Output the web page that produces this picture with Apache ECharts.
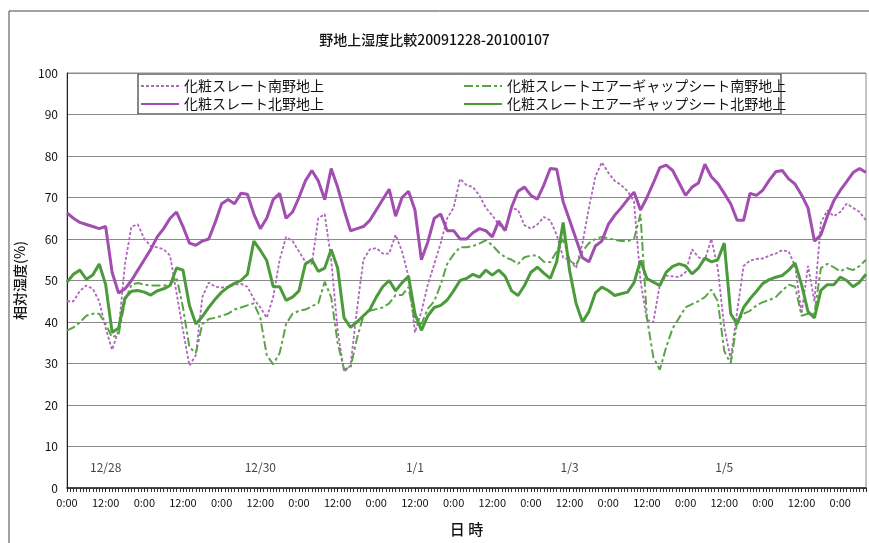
<!DOCTYPE html>
<html>
<head>
<meta charset="utf-8">
<script src="https://cdn.jsdelivr.net/npm/echarts@6/dist/echarts.min.js"></script>
<style>
  html, body { margin: 0; padding: 0; background: #fff; }
  #chart { width: 869px; height: 543px; }
</style>
</head>
<body>
<div id="chart"></div>
<script>
// Relative humidity above the roof sheathing, 2009-12-28 0:00 to 2010-01-07 8:00, one reading every 2 hours
const stepHours = 2;
const axisMaxHours = 248;

const nameSouth = '化粧スレート南野地上';
const nameNorth = '化粧スレート北野地上';
const nameGapSouth = '化粧スレートエアーギャップシート南野地上';
const nameGapNorth = '化粧スレートエアーギャップシート北野地上';

const southSlate = [
  45, 45, 47.5, 48.8, 48, 45, 38.5, 33.3, 38, 54, 63, 63.5,
  60, 58.3, 58, 57.5, 56, 47, 38, 29.5, 32, 46, 49.5, 48.5,
  48.3, 48.5, 49, 49.2, 48.5, 45.5, 43.5, 41, 46, 55, 60.5, 59.5,
  57, 54.5, 54, 65, 66, 55, 38, 28, 29.5, 43, 55, 57.5,
  57.8, 56.5, 56.5, 61, 57, 51, 37.5, 42.5, 49, 54, 59, 65,
  67.5, 74.5, 73, 72.5, 70.5, 67.5, 65.7, 63.5, 62, 67.5, 67, 63.3,
  62.5, 63.5, 65.3, 64.5, 61, 55.5, 55, 53, 59, 67.5, 75, 78.5,
  76, 74, 73, 71.5, 69, 50, 40.5, 40, 49, 51.2, 51, 50.8,
  52, 57.5, 55.6, 55, 60, 53, 38.7, 31, 42.5, 53.5, 54.8, 55.2,
  55.3, 56, 56.5, 57.3, 57, 53.5, 42, 53.5, 45, 64, 66.9, 65.5,
  66.5, 68.5, 67.5, 66.5, 64.5
];

const northSlate = [
  66.3, 65, 64, 63.5, 63, 62.5, 63, 52, 47, 48, 50, 52.5,
  55, 57.5, 60.5, 62.5, 65, 66.5, 63, 59, 58.5, 59.5, 60, 64,
  68.5, 69.5, 68.5, 71, 70.8, 66, 62.5, 65, 69.5, 71, 65, 66.5,
  70, 74, 76.5, 74, 69.5, 77, 72.5, 67, 62, 62.5, 63, 64.5,
  67, 69.5, 72, 65.5, 70, 71.5, 67, 55, 59.3, 65, 66, 62,
  62, 60, 60, 61.5, 62.5, 62, 60.5, 64.3, 62, 67.7, 71.5, 72.5,
  70.5, 69.6, 73, 77, 76.8, 69, 64.5, 60, 55.5, 54.5, 58.3, 59.5,
  63.5, 65.7, 67.5, 69.5, 71.3, 67, 70, 73.5, 77.2, 77.8, 76.5, 73.5,
  70.5, 72.5, 73.5, 78, 75, 73.4, 71, 68.5, 64.5, 64.5, 71, 70.5,
  71.8, 74.2, 76.2, 76.5, 74.5, 73.2, 70.6, 67.5, 59.5, 61, 65.5, 69.2,
  71.7, 73.8, 76, 77, 76
];

const southGapSheet = [
  37.9, 38.7, 39.9, 41.5, 42, 42, 39.5, 36.3, 37, 45, 49, 49.4,
  49, 48.8, 48.8, 48.8, 49, 50.8, 43.5, 33.9, 32.5, 39.5, 40.7, 41,
  41.5, 42, 43, 43.5, 44, 44.5, 41, 32, 29.8, 32.5, 39.5, 42,
  42.7, 43, 43.8, 44.5, 49.7, 46, 35, 28.6, 29, 36, 41.5, 42.7,
  43.1, 43.5, 44.5, 46.5, 46.5, 48.4, 40, 39.5, 43.2, 45, 49, 54,
  56.3, 58, 58, 58.3, 58.9, 59.7, 58.5, 56.8, 55.6, 55, 54, 55.6,
  56, 56, 54.5, 54.4, 57, 60, 55, 53.6, 57, 59, 60, 60.5,
  60.2, 59.8, 59.5, 59.5, 60, 66, 41, 31.5, 28.5, 34, 38.5, 41,
  43.5, 44.3, 45, 46, 47.8, 45, 33, 30, 40, 42, 42.7, 44,
  44.8, 45.3, 46, 47.6, 49, 48.5, 41.5, 42, 42, 53, 54, 53.2,
  52.2, 53, 52.5, 53.5, 55
];

const northGapSheet = [
  49.6, 51.5, 52.5, 50.3, 51.3, 54, 49, 37.5, 38.5, 45.8, 47.4, 47.6,
  47.2, 46.5, 47.5, 48, 48.8, 53, 52.5, 44, 39.5, 41.3, 43.5, 45.5,
  47.2, 48.4, 49.3, 50, 51.5, 59.5, 57.3, 54.8, 48.5, 48.5, 45.2, 46,
  47.5, 54, 55, 52.2, 53, 57.5, 53, 41, 38.7, 40, 41.5, 43,
  46, 48.5, 50, 47.5, 49.5, 51, 42, 38, 41.5, 43.5, 44, 45.3,
  47.5, 50, 50.5, 51.5, 50.8, 52.5, 51.3, 52.5, 51, 47.5, 46.4, 48.8,
  52, 53.2, 51.8, 50.5, 54.5, 64, 52.4, 44.5, 40, 42.5, 47, 48.4,
  47.6, 46.4, 46.8, 47.2, 49.5, 54.8, 50.5, 49.6, 48.8, 52, 53.4, 54,
  53.5, 51.6, 53, 55.4, 54.5, 55, 59, 42, 39.5, 43.5, 45.6, 47.4,
  49.3, 50.2, 50.8, 51.2, 52.5, 54.2, 49, 42.5, 41, 47.6, 49, 49,
  50.8, 50, 48.5, 49.6, 51.5
];

// Date captions written inside the plot, placed at noon of each labelled day
const dateLabels = ['12/28', '12/30', '1/1', '1/3', '1/5'];
const dateLabelHours = [12, 60, 108, 156, 204];
const dateLabelLevel = 5;

const purple = '#a24db0';
const purpleLight = '#b066bd';
const green = '#4b9b3b';
const greenLight = '#5aa447';
const font = '"Noto Sans CJK JP", "Noto Sans", sans-serif';

function toPoints(values) {
  return values.map((v, i) => [i * stepHours, v]);
}

const legendCommon = {
  orient: 'vertical',
  top: 79,
  padding: 0,
  itemGap: 4,
  itemWidth: 38,
  itemHeight: 14,
  // only the line sample is wanted in the key, not a point marker
  itemStyle: { opacity: 0 },
  textStyle: { fontFamily: font, fontSize: 14, color: '#111' }
};

const chart = echarts.init(document.getElementById('chart'));

chart.setOption({
  backgroundColor: '#ffffff',
  animation: false,
  textStyle: { fontFamily: font, color: '#111' },
  title: {
    text: '野地上湿度比較20091228-20100107',
    left: 'center',
    top: 28,
    textStyle: { fontFamily: font, fontSize: 14, fontWeight: 500, color: '#111' }
  },
  graphic: [
    {
      type: 'rect',
      silent: true,
      shape: { x: 9, y: 11, width: 900, height: 600 },
      style: { fill: 'none', stroke: '#444', lineWidth: 1 }
    },
    {
      type: 'rect',
      silent: true,
      z: 0,
      shape: { x: 138, y: 74, width: 643, height: 40 },
      style: { fill: '#fff', stroke: '#111', lineWidth: 1 }
    }
  ],
  legend: [
    Object.assign({ data: [nameSouth, nameNorth], left: 140 }, legendCommon),
    Object.assign({ data: [nameGapSouth, nameGapNorth], left: 463 }, legendCommon)
  ],
  grid: {
    left: 67,
    right: 3,
    top: 73,
    bottom: 55,
    show: true,
    borderColor: '#8a8a8a',
    borderWidth: 1,
    backgroundColor: '#fff'
  },
  xAxis: {
    type: 'value',
    min: 0,
    max: axisMaxHours,
    interval: 12,
    name: '日 時',
    nameLocation: 'middle',
    nameGap: 34,
    nameTextStyle: { fontFamily: font, fontSize: 15, fontWeight: 500, color: '#111' },
    axisLine: { show: true, lineStyle: { color: '#222', width: 1.5 } },
    axisTick: { show: true, length: 4, lineStyle: { color: '#222' } },
    minorTick: { show: true, splitNumber: 12, length: 4, lineStyle: { color: '#333', width: 1 } },
    splitLine: { show: false },
    axisLabel: {
      fontFamily: font,
      fontSize: 11,
      color: '#111',
      margin: 9,
      showMaxLabel: false,
      formatter: function (v) {
        if (v % 24 === 0) return '0:00';
        if (v % 12 === 0) return '12:00';
        return '';
      }
    }
  },
  yAxis: {
    type: 'value',
    min: 0,
    max: 100,
    interval: 10,
    name: '相対湿度(%)',
    nameLocation: 'middle',
    nameGap: 38,
    nameRotate: 90,
    nameTextStyle: { fontFamily: font, fontSize: 14, fontWeight: 500, color: '#111' },
    axisLine: { show: true, lineStyle: { color: '#222', width: 1 } },
    axisTick: { show: false },
    axisLabel: { fontFamily: font, fontSize: 12, color: '#111', margin: 9 },
    splitLine: { show: true, lineStyle: { color: '#8a8a8a', width: 1 } }
  },
  series: [
    {
      name: nameSouth,
      type: 'line',
      data: toPoints(southSlate),
      symbol: 'none',
      color: purpleLight,
      lineStyle: { color: purpleLight, width: 1.8, type: [3, 2] },
      z: 3
    },
    {
      name: nameGapSouth,
      type: 'line',
      data: toPoints(southGapSheet),
      symbol: 'none',
      color: greenLight,
      lineStyle: { color: greenLight, width: 2, type: [9, 3, 3, 3] },
      z: 3
    },
    {
      name: nameNorth,
      type: 'line',
      data: toPoints(northSlate),
      symbol: 'none',
      color: purple,
      lineStyle: { color: purple, width: 3 },
      z: 4
    },
    {
      name: nameGapNorth,
      type: 'line',
      data: toPoints(northGapSheet),
      symbol: 'none',
      color: green,
      lineStyle: { color: green, width: 3 },
      z: 4
    },
    {
      name: '日付',
      type: 'scatter',
      silent: true,
      symbol: 'circle',
      symbolSize: 1,
      itemStyle: { color: 'rgba(0,0,0,0)' },
      data: dateLabels.map((t, i) => [dateLabelHours[i], dateLabelLevel, t]),
      label: {
        show: true,
        position: 'inside',
        formatter: p => p.data[2],
        fontFamily: font,
        fontSize: 12,
        color: '#111'
      }
    }
  ]
});
</script>
</body>
</html>
